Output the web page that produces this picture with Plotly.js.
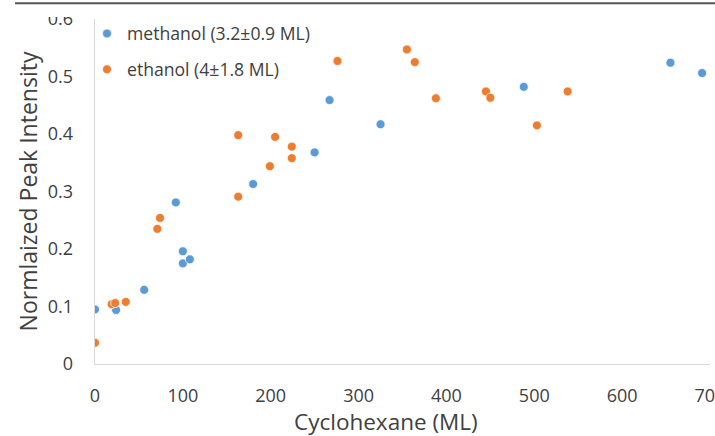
<!DOCTYPE html>
<html>
<head>
<meta charset="utf-8">
<script src="https://cdn.plot.ly/plotly-3.0.1.min.js"></script>
<style>
  html, body { margin: 0; padding: 0; background: #fff; }
  #chart { width: 715px; height: 436px; }
</style>
</head>
<body>
<div id="chart"></div>
<script>
// Normalized peak intensity vs. cyclohexane coverage (ML)
const methanolX = [0, 24, 56, 92, 100, 100, 108, 180, 250, 267, 325, 488, 655, 691];
const methanolY = [0.095, 0.094, 0.129, 0.281, 0.196, 0.175, 0.182, 0.313, 0.368, 0.459, 0.417, 0.482, 0.524, 0.506];

const ethanolX = [0, 19, 23, 35, 71, 74, 163, 163, 199, 205, 224, 224, 276, 355, 364, 388, 445, 450, 503, 538];
const ethanolY = [0.037, 0.104, 0.106, 0.108, 0.235, 0.254, 0.398, 0.291, 0.344, 0.395, 0.378, 0.358, 0.527, 0.547, 0.525, 0.462, 0.474, 0.463, 0.415, 0.474];

const seriesNames = ['methanol (3.2\u00B10.9 ML)', 'ethanol (4\u00B11.8 ML)'];
const xTitle = 'Cyclohexane (ML)';
const yTitle = 'Normlaized Peak Intensity';

const textColor = '#404040';
const axisColor = '#d9d9d9';
const fontFamily = '"Open Sans", "Noto Sans", sans-serif';

const markerStyle = (color) => ({
  color: color,
  size: 9,
  line: { color: '#ffffff', width: 0.75 }
});

const traces = [
  {
    type: 'scatter', mode: 'markers', name: seriesNames[0],
    x: methanolX, y: methanolY, legendgroup: 'a',
    marker: markerStyle('#5B9BD5')
  },
  {
    type: 'scatter', mode: 'markers', name: seriesNames[1],
    x: ethanolX, y: ethanolY, legendgroup: 'b',
    marker: markerStyle('#ED7D31')
  }
];

const layout = {
  width: 715,
  height: 436,
  margin: { l: 95, r: 5, t: 19, b: 72, pad: 0 },
  paper_bgcolor: '#ffffff',
  plot_bgcolor: '#ffffff',
  font: { family: fontFamily, color: textColor },
  showlegend: true,
  legend: {
    x: -0.013, xanchor: 'left',
    y: 1.01, yanchor: 'top',
    bgcolor: 'rgba(0,0,0,0)',
    font: { size: 17.6, color: textColor, family: fontFamily },
    traceorder: 'grouped',
    tracegroupgap: 10
  },
  xaxis: {
    range: [0, 700.01],
    dtick: 100,
    tick0: 0,
    showgrid: false,
    zeroline: false,
    showline: true,
    linecolor: axisColor,
    linewidth: 1.3,
    ticks: '',
    ticklabelstandoff: 15,
    ticklabeloverflow: 'allow',
    tickfont: { size: 18, color: textColor },
    automargin: false,
    fixedrange: true
  },
  yaxis: {
    range: [0, 0.6],
    dtick: 0.1,
    tick0: 0,
    showgrid: false,
    zeroline: false,
    showline: true,
    linecolor: axisColor,
    linewidth: 1.3,
    ticks: '',
    ticklabelstandoff: 17,
    tickfont: { size: 18, color: textColor },
    title: { text: yTitle, font: { size: 23, color: textColor }, standoff: 3 },
    automargin: false,
    fixedrange: true
  },
  annotations: [
    // x-axis title, set slightly left of the plot centre
    {
      text: xTitle, showarrow: false,
      xref: 'paper', yref: 'paper',
      x: 0.473, y: -0.168, xanchor: 'center', yanchor: 'middle',
      font: { size: 22.5, color: textColor, family: fontFamily }
    }
  ],
  shapes: [
    // thin rule across the top edge
    {
      type: 'line', xref: 'paper', yref: 'paper',
      x0: -0.13, x1: 1.02, y0: 1.046, y1: 1.046,
      line: { color: '#555555', width: 2 },
      layer: 'above'
    },
    // white band trimming the top of the uppermost y label
    {
      type: 'rect', xref: 'paper', yref: 'paper',
      x0: -0.1, x1: -0.005, y0: 1.0058, y1: 1.04,
      line: { width: 0 },
      fillcolor: '#ffffff',
      layer: 'above'
    }
  ]
};

Plotly.newPlot('chart', traces, layout, { displayModeBar: false, staticPlot: true });
</script>
</body>
</html>
